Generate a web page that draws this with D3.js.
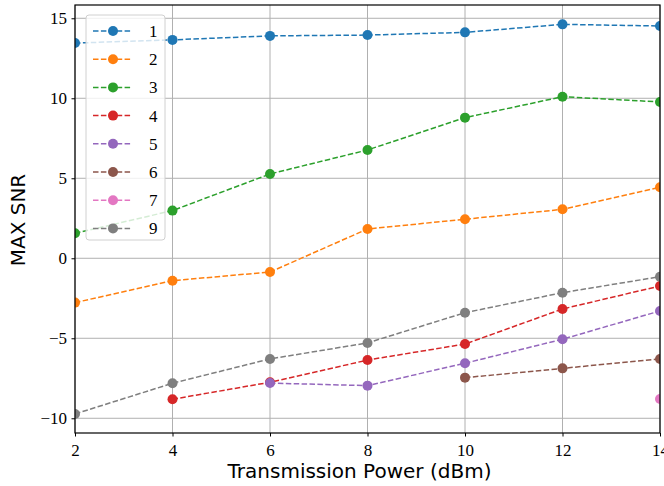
<!DOCTYPE html>
<html>
<head>
<meta charset="utf-8">
<script src="https://cdn.jsdelivr.net/npm/d3@7"></script>
<style>
  body { margin: 0; background: #fff; }
</style>
</head>
<body>
<div id="chart"></div>
<script>
// Transmission power values (x)
const powers = [2, 4, 6, 8, 10, 12, 14];
const seriesNames = ["1", "2", "3", "4", "5", "6", "7", "9"];

// Max SNR for each series, null where there is no point
const snr1 = [13.45, 13.65, 13.9, 13.95, 14.12, 14.62, 14.52];
const snr2 = [-2.77, -1.4, -0.86, 1.83, 2.44, 3.06, 4.44];
const snr3 = [1.56, 2.98, 5.27, 6.77, 8.79, 10.1, 9.77];
const snr4 = [null, -8.81, -7.75, -6.36, -5.36, -3.17, -1.73];
const snr5 = [null, null, -7.8, -7.96, -6.56, -5.06, -3.29];
const snr6 = [null, null, null, null, -7.46, -6.88, -6.29];
const snr7 = [null, null, null, null, null, null, -8.8];
const snr9 = [-9.73, -7.81, -6.29, -5.29, -3.4, -2.15, -1.15];

const yTicks = [-10, -5, 0, 5, 10, 15];
const colors = ["#1f77b4", "#ff7f0e", "#2ca02c", "#d62728", "#9467bd", "#8c564b", "#e377c2", "#7f7f7f"];

const allSeries = [snr1, snr2, snr3, snr4, snr5, snr6, snr7, snr9].map((vals, i) => ({
    name: seriesNames[i],
    color: colors[i],
    points: powers.map((p, j) => ({ x: p, y: vals[j] })).filter(d => d.y !== null)
}));

// Dimensions
const margin = { top: 5, right: 4, bottom: 53, left: 75 };
const width = 585;
const height = 428;

const svg = d3.select("#chart").append("svg")
    .attr("width", 664)
    .attr("height", 486)
    .append("g")
    .attr("transform", `translate(${margin.left},${margin.top})`);

const x = d3.scaleLinear().domain([2, 14]).range([0, width]);
const y = d3.scaleLinear().domain([-10.92, 15.83]).range([height, 0]);

svg.append("defs").append("clipPath")
    .attr("id", "plot-clip")
    .append("rect")
    .attr("width", width)
    .attr("height", height);

// Grid
svg.append("g")
    .selectAll("line")
    .data(powers)
    .enter()
    .append("line")
    .attr("x1", d => x(d))
    .attr("x2", d => x(d))
    .attr("y1", 0)
    .attr("y2", height)
    .attr("stroke", "#b0b0b0")
    .attr("stroke-width", 1);

svg.append("g")
    .selectAll("line")
    .data(yTicks)
    .enter()
    .append("line")
    .attr("x1", 0)
    .attr("x2", width)
    .attr("y1", d => y(d))
    .attr("y2", d => y(d))
    .attr("stroke", "#b0b0b0")
    .attr("stroke-width", 1);

// Lines and markers
const line = d3.line()
    .x(d => x(d.x))
    .y(d => y(d.y));

const plot = svg.append("g").attr("clip-path", "url(#plot-clip)");

allSeries.forEach(s => {
    plot.append("path")
        .datum(s.points)
        .attr("d", line)
        .attr("fill", "none")
        .attr("stroke", s.color)
        .attr("stroke-width", 1.5)
        .attr("stroke-dasharray", "5.5,2.4");

    plot.selectAll(null)
        .data(s.points)
        .enter()
        .append("circle")
        .attr("cx", d => x(d.x))
        .attr("cy", d => y(d.y))
        .attr("r", 5)
        .attr("fill", s.color);
});

// Axes
const xAxis = svg.append("g")
    .attr("transform", `translate(0,${height})`)
    .call(d3.axisBottom(x).tickValues(powers).tickSize(3.5).tickPadding(7));

const yAxis = svg.append("g")
    .call(d3.axisLeft(y).tickValues(yTicks).tickSize(3.5).tickPadding(4.5)
        .tickFormat(d => d < 0 ? "\u2212" + Math.abs(d) : d));

[xAxis, yAxis].forEach(a => {
    a.select(".domain").remove();
    a.selectAll("text")
        .style("font-family", "'Liberation Serif', serif")
        .style("font-size", "17px")
        .attr("fill", "#000");
});

// Frame
svg.append("rect")
    .attr("width", width)
    .attr("height", height)
    .attr("fill", "none")
    .attr("stroke", "#000")
    .attr("stroke-width", 1.2);

// Axis labels
svg.append("text")
    .attr("x", width / 2 - 8)
    .attr("y", height + 45)
    .attr("text-anchor", "middle")
    .style("font-family", "'DejaVu Sans', sans-serif")
    .style("font-size", "20px")
    .text("Transmission Power (dBm)");

svg.append("text")
    .attr("x", -215)
    .attr("y", -50)
    .attr("transform", "rotate(-90)")
    .attr("text-anchor", "middle")
    .style("font-family", "'DejaVu Sans', sans-serif")
    .style("font-size", "20px")
    .text("MAX SNR");

// Legend
const legend = svg.append("g")
    .attr("transform", "translate(11,10)");

legend.append("rect")
    .attr("width", 79)
    .attr("height", 225)
    .attr("rx", 3)
    .attr("fill", "#fff")
    .attr("fill-opacity", 0.8)
    .attr("stroke", "#d0d0d0");

allSeries.forEach((s, i) => {
    const ly = 16 + i * 28.2;
    legend.append("line")
        .attr("x1", 7)
        .attr("x2", 45)
        .attr("y1", ly)
        .attr("y2", ly)
        .attr("stroke", s.color)
        .attr("stroke-width", 1.5)
        .attr("stroke-dasharray", "5.5,2.4");
    legend.append("circle")
        .attr("cx", 27)
        .attr("cy", ly)
        .attr("r", 5)
        .attr("fill", s.color);
    legend.append("text")
        .attr("x", 63)
        .attr("y", ly + 6)
        .style("font-family", "'Liberation Serif', serif")
        .style("font-size", "17px")
        .text(s.name);
});
</script>
</body>
</html>
